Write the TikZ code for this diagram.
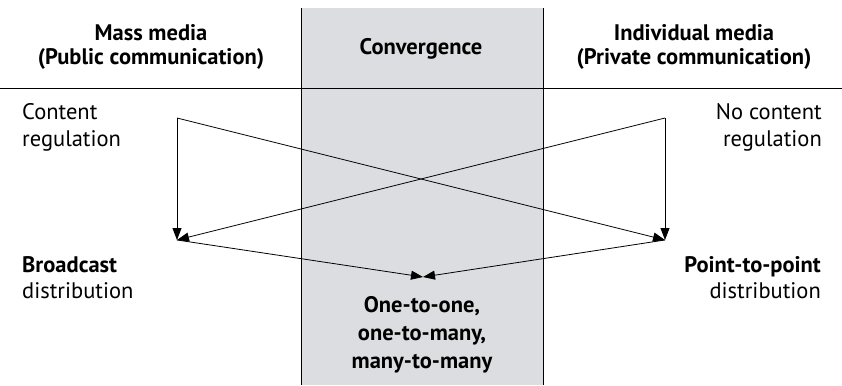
\documentclass[tikz,border=0pt]{standalone}
\usepackage{fontspec}
\setmainfont{PT Sans}
\usetikzlibrary{arrows.meta}
\definecolor{bandgray}{RGB}{220,221,224}
\begin{document}
\begin{tikzpicture}[x=1pt,y=-1pt,
  txt/.style={inner sep=0pt,font=\fontsize{22.5}{26}\selectfont},
  btxt/.style={inner sep=0pt,font=\fontsize{22.5}{26}\selectfont\bfseries},
  conn/.style={line width=0.8pt,-{Triangle[length=12pt,width=9pt]}},
  rule/.style={line width=0.8pt}]
\useasboundingbox (0,0) rectangle (842,385);
\fill[bandgray] (301,8) rectangle (543,385);
\draw[rule] (301,8) -- (301,385);
\draw[rule] (543,8) -- (543,385);
\draw[rule] (0,88) -- (842,88);
% headers
\node[btxt,anchor=base] (mass1) at (151,41) {Mass media};
\node[btxt,anchor=base] (mass2) at (151,65) {(Public communication)};
\node[btxt,anchor=base] (conv) at (421,55) {Convergence};
\node[btxt,anchor=base] (indiv1) at (694,41) {Individual media};
\node[btxt,anchor=base] (indiv2) at (694,65) {(Private communication)};
% side texts
\node[txt,anchor=base west] (content1) at (22,120) {Content};
\node[txt,anchor=base west] (content2) at (22,146) {regulation};
\node[txt,anchor=base east] (nocontent1) at (822,120) {No content};
\node[txt,anchor=base east] (nocontent2) at (822,146) {regulation};
\node[btxt,anchor=base west] (broad1) at (22,272) {Broadcast};
\node[txt,anchor=base west] (broad2) at (22,298) {distribution};
\node[btxt,anchor=base east] (p2p1) at (821,272) {Point-to-point};
\node[txt,anchor=base east] (p2p2) at (821,298) {distribution};
\node[btxt,anchor=base] (many1) at (422,312) {One-to-one,};
\node[btxt,anchor=base] (many2) at (422,340) {one-to-many,};
\node[btxt,anchor=base] (many3) at (422,368) {many-to-many};
% points
\coordinate (TL) at (177,118);
\coordinate (TR) at (665,118);
\coordinate (L) at (177,240);
\coordinate (R) at (665,240);
\coordinate (C) at (423,277);
\draw[conn] (TL) -- (L);
\draw[conn] (TR) -- (R);
\draw[conn] (TL) -- (R);
\draw[conn] (TR) -- (L);
\draw[conn] (L) -- (C);
\draw[conn] (R) -- (C);
\end{tikzpicture}
\end{document}
